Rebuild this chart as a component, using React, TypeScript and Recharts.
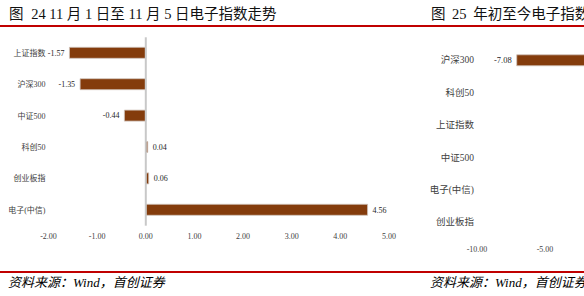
import React from 'react';
import { BarChart, Bar, XAxis, YAxis, ReferenceLine, LabelList } from 'recharts';

const weekCategories = ['上证指数', '沪深300', '中证500', '科创50', '创业板指', '电子(中信)'];
const weekChanges = [-1.57, -1.35, -0.44, 0.04, 0.06, 4.56];
const weekTicks = [-2, -1, 0, 1, 2, 3, 4, 5];

const ytdCategories = ['沪深300', '科创50', '上证指数', '中证500', '电子(中信)', '创业板指'];
const ytdChanges = [-7.08, 0.6, 2.3, 4.1, 8.5, 11.2];
const ytdTicks = [-10, -5, 0, 5, 10, 15];

const BAR_COLOR = '#843c0c';
const RED = '#c00000';
const FONT = '"Liberation Serif", "Noto Sans CJK SC", serif';

const weekData = weekCategories.map((name, i) => ({ name, value: weekChanges[i] }));
const ytdData = ytdCategories.map((name, i) => ({ name, value: ytdChanges[i] }));

function valueLabel(fontSize: number, gap: number) {
  // eslint-disable-next-line @typescript-eslint/no-explicit-any
  return (props: any) => {
    const { x, y, width, height, value } = props;
    const left = Math.min(x, x + width);
    const right = Math.max(x, x + width);
    const neg = value < 0;
    return (
      <text
        x={neg ? left - gap : right + gap}
        y={y + height / 2}
        dy="0.35em"
        textAnchor={neg ? 'end' : 'start'}
        fontSize={fontSize}
        fontFamily={FONT}
        fill="#262626"
      >
        {Number(value).toFixed(2)}
      </text>
    );
  };
}

function HorizontalBars({
  data,
  ticks,
  width,
  height,
  yWidth,
  top,
  catFont,
  valFont,
  tickMargin,
}: {
  data: { name: string; value: number }[];
  ticks: number[];
  width: number;
  height: number;
  yWidth: number;
  top: number;
  catFont: number;
  valFont: number;
  tickMargin: number;
}) {
  return (
    <BarChart
      width={width}
      height={height}
      data={data}
      layout="vertical"
      margin={{ top, right: 10, bottom: 0, left: 0 }}
      barCategoryGap={0}
    >
      <XAxis
        type="number"
        domain={[ticks[0], ticks[ticks.length - 1]]}
        ticks={ticks}
        tickFormatter={(v: number) => v.toFixed(2)}
        axisLine={false}
        tickLine={false}
        tickSize={0}
        tickMargin={tickMargin}
        height={24}
        tick={{ fontSize: 8, fill: '#404040', fontFamily: FONT }}
      />
      <YAxis
        type="category"
        dataKey="name"
        width={yWidth}
        axisLine={false}
        tickLine={false}
        tickSize={0}
        tickMargin={3}
        tick={{ fontSize: catFont, fill: '#404040', fontFamily: FONT }}
      />
      <Bar dataKey="value" fill={BAR_COLOR} stroke="#d0c4bc" strokeWidth={0.8} barSize={11} isAnimationActive={false}>
        <LabelList dataKey="value" content={valueLabel(valFont, 5)} />
      </Bar>
      <ReferenceLine x={0} stroke="#c8c8c8" strokeWidth={2} />
    </BarChart>
  );
}

const titleStyle: React.CSSProperties = {
  position: 'absolute',
  top: 4,
  fontSize: 14.5,
  fontFamily: FONT,
  color: '#111',
  whiteSpace: 'pre',
  lineHeight: '20px',
};

const sourceStyle: React.CSSProperties = {
  position: 'absolute',
  top: 274,
  fontSize: 13,
  fontStyle: 'italic',
  fontFamily: FONT,
  color: '#000',
  whiteSpace: 'nowrap',
  lineHeight: '18px',
};

export default function App() {
  return (
    <div style={{ position: 'fixed', left: 0, top: 0, width: 584, height: 296, overflow: 'hidden', background: '#fff' }}>
      <div style={{ ...titleStyle, left: 9 }}>
        图<span style={{ marginLeft: 4 }}> </span>24 11 月 1 日至 11 月 5 日电子指数走势
      </div>
      <div style={{ ...titleStyle, left: 431, wordSpacing: 3 }}>图 25 年初至今电子指数走势</div>
      <div style={{ position: 'absolute', left: 0, top: 25, width: 584, height: 2, background: RED }} />

      <div style={{ position: 'absolute', left: 0, top: 0 }}>
        <HorizontalBars
          data={weekData}
          ticks={weekTicks}
          width={399}
          height={249.7}
          yWidth={48.5}
          top={37.3}
          catFont={8}
          valFont={8}
          tickMargin={8}
        />
      </div>

      <div style={{ position: 'absolute', left: 420, top: 0 }}>
        <HorizontalBars
          data={ytdData}
          ticks={ytdTicks}
          width={407}
          height={262.2}
          yWidth={57}
          top={43.8}
          catFont={9.5}
          valFont={8.5}
          tickMargin={8}
        />
      </div>

      <div style={{ position: 'absolute', left: 0, top: 271, width: 584, height: 2, background: RED }} />
      <div style={{ ...sourceStyle, left: 8 }}>资料来源：Wind，首创证券</div>
      <div style={{ ...sourceStyle, left: 430 }}>资料来源：Wind，首创证券</div>
    </div>
  );
}
